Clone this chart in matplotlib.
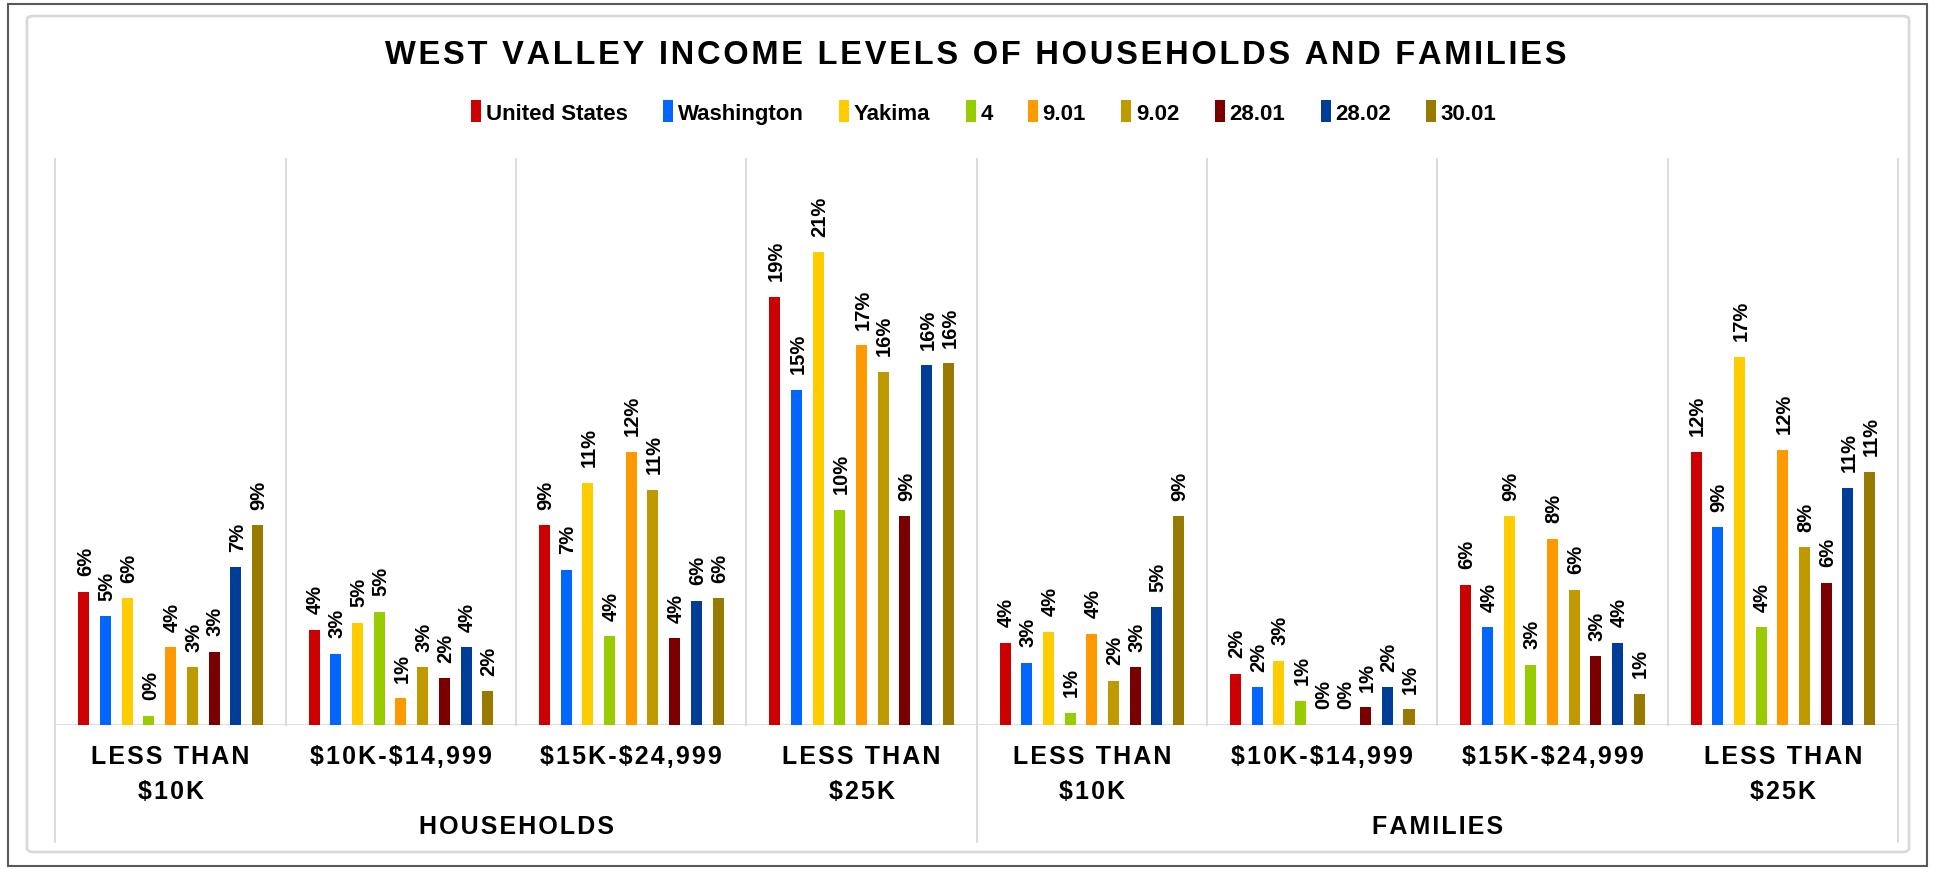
import matplotlib
matplotlib.use("Agg")
import matplotlib.pyplot as plt
import matplotlib.patches as mpatches
import matplotlib.transforms as mtransforms
import numpy as np

plt.rcParams['font.family'] = ['Liberation Sans', 'DejaVu Sans']

# data (percent of households / families)
series = ["United States", "Washington", "Yakima", "4", "9.01", "9.02", "28.01", "28.02", "30.01"]
colors = ["#CC0000", "#0066FF", "#FFCC00", "#99CC00", "#FF9900",
          "#BF9900", "#7A0000", "#003D99", "#997A00"]
categories = ["LESS THAN\n$10K", "$10K-$14,999", "$15K-$24,999", "LESS THAN\n$25K",
              "LESS THAN\n$10K", "$10K-$14,999", "$15K-$24,999", "LESS THAN\n$25K"]
groups = ["HOUSEHOLDS", "FAMILIES"]

united_states = [6.0, 4.3, 9.0, 19.3, 3.7, 2.3, 6.3, 12.3]
washington    = [4.9, 3.2, 7.0, 15.1, 2.8, 1.7, 4.4, 8.9]
yakima        = [5.7, 4.6, 10.9, 21.3, 4.2, 2.9, 9.4, 16.6]
tract_4       = [0.4, 5.1, 4.0, 9.7, 0.55, 1.1, 2.7, 4.4]
tract_901     = [3.5, 1.2, 12.3, 17.1, 4.1, 0.0, 8.4, 12.4]
tract_902     = [2.6, 2.6, 10.6, 15.9, 2.0, 0.0, 6.1, 8.0]
tract_2801    = [3.3, 2.1, 3.9, 9.4, 2.6, 0.8, 3.1, 6.4]
tract_2802    = [7.1, 3.5, 5.6, 16.2, 5.3, 1.7, 3.7, 10.7]
tract_3001    = [9.0, 1.52, 5.7, 16.3, 9.4, 0.7, 1.4, 11.4]
values = [united_states, washington, yakima, tract_4, tract_901,
          tract_902, tract_2801, tract_2802, tract_3001]

W, H = 1934, 870
fig = plt.figure(figsize=(W / 100, H / 100), dpi=100)

# borders
fig.patches.append(mpatches.Rectangle((8 / W, 3 / H), 1919 / W, 862 / H, transform=fig.transFigure,
                                      fill=False, edgecolor="#595959", lw=1.5))
fig.patches.append(mpatches.FancyBboxPatch((27 / W, 17 / H), 1882 / W, 836 / H,
                                           boxstyle="round,pad=0,rounding_size=0.004",
                                           transform=fig.transFigure, fill=False,
                                           edgecolor="#D9D9D9", lw=2))

left, right, top, base = 55.5, 1898, 160, 726
ax = fig.add_axes([left / W, (H - base) / H, (right - left) / W, (base - top) / H])
ax.set_xlim(-0.5, len(categories) - 0.5)
ax.set_ylim(0, 25.5)
for s in ax.spines.values():
    s.set_visible(False)
ax.set_yticks([])

x = np.arange(len(categories))
step = 0.0942
bw = 0.0478
for j, (name, vals, c) in enumerate(zip(series, values, colors)):
    xs = x + (j - 4) * step
    ax.bar(xs, vals, width=bw, color=c, label=name, zorder=3)
    for xi, v in zip(xs, vals):
        ax.annotate(f"{v:.0f}%", (xi, v), xytext=(1, 12), textcoords="offset points",
                    rotation=90, ha="center", va="bottom", fontsize=14.5, fontweight="bold")

ax.axhline(0, color="#D9D9D9", lw=2, zorder=2)

trans = mtransforms.blended_transform_factory(ax.transData, ax.transAxes)
low = -(843 - base) / (base - top)
for k in range(len(categories) + 1):
    xe = k - 0.5
    y0 = low if k % 4 == 0 else 0
    ax.plot([xe, xe], [y0, 1], transform=trans, color="#D9D9D9", lw=1.3, clip_on=False, zorder=1)


def spaced(s):
    # small letter spacing, and a literal dollar sign (not mathtext)
    return "\n".join("\u200a".join(line) for line in s.split("\n")).replace("$", r"\$")


ax.set_xticks(x)
ax.set_xticklabels([spaced(c) for c in categories], fontsize=18, fontweight="bold", linespacing=1.53)
ax.tick_params(axis="x", length=0, pad=14)

for g, name in enumerate(groups):
    ax.text(g * 4 + 1.5, -(827 - base) / (base - top), spaced(name), transform=trans,
            ha="center", va="center", fontsize=18, fontweight="bold")

fig.text(976 / W, 1 - 55 / H, spaced("WEST VALLEY INCOME LEVELS OF HOUSEHOLDS AND FAMILIES"),
         ha="center", va="center", fontsize=23.5, fontweight="bold")

fig.legend(loc="center", bbox_to_anchor=(984 / W, 1 - 113 / H), ncol=9, frameon=False,
           prop={"size": 16, "weight": "bold"}, handlelength=0.45, handleheight=1.1,
           handletextpad=0.2, columnspacing=1.6)

fig.savefig("out.png", dpi=100)
